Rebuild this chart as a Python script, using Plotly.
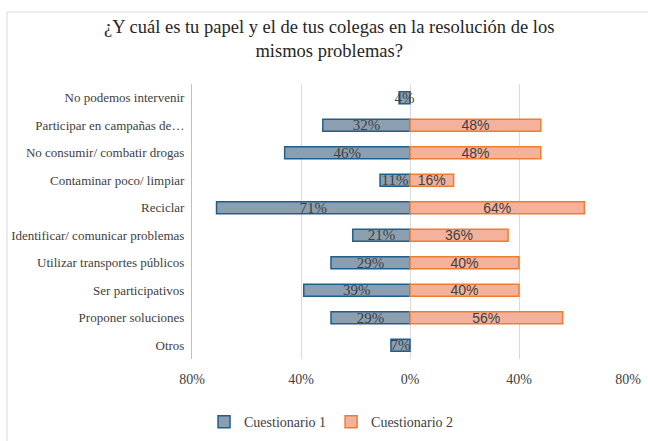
import plotly.graph_objects as go

categories = ["No podemos intervenir", "Participar en campañas de…", "No consumir/ combatir drogas",
              "Contaminar poco/ limpiar", "Reciclar", "Identificar/ comunicar problemas",
              "Utilizar transportes públicos", "Ser participativos", "Proponer soluciones", "Otros"]
cuestionario1 = [4, 32, 46, 11, 71, 21, 29, 39, 29, 7]
cuestionario2 = [None, 48, 48, 16, 64, 36, 40, 40, 56, None]
tick_vals = [-80, -40, 0, 40, 80]
tick_text = ["80%", "40%", "0%", "40%", "80%"]

serif = "Liberation Serif"
sans = "Liberation Sans"
txt = "#404040"

fig = go.Figure()
fig.add_trace(go.Bar(
    name="Cuestionario 1", orientation="h", y=categories,
    x=[-v for v in cuestionario1],
    text=[f"{v}%" for v in cuestionario1],
    textposition="inside", insidetextanchor="middle", textangle=0,
    insidetextfont=dict(family=serif, size=15, color=txt),
    marker=dict(color="#8c9fb1", line=dict(color="#1f5f8b", width=1.5)),
))
fig.add_trace(go.Bar(
    name="Cuestionario 2", orientation="h", y=categories,
    x=cuestionario2,
    text=[f"{v}%" if v is not None else "" for v in cuestionario2],
    textposition="inside", insidetextanchor="middle", textangle=0,
    insidetextfont=dict(family=sans, size=14, color=txt),
    marker=dict(color="#f4b19c", line=dict(color="#ed7d31", width=1.5)),
))

fig.update_layout(
    width=648, height=441,
    margin=dict(l=192, r=20, t=84, b=82, autoexpand=False),
    paper_bgcolor="white", plot_bgcolor="white",
    barmode="relative", bargap=0.56,
    uniformtext=dict(mode="show", minsize=14),
    title=dict(text="¿Y cuál es tu papel y el de tus colegas en la resolución de los<br>mismos problemas?",
               x=0.508, xanchor="center", y=0.925, yanchor="middle",
               font=dict(family=serif, size=18.5, color="#262626")),
    xaxis=dict(range=[-80, 80], tickvals=tick_vals, ticktext=tick_text,
               showgrid=True, gridcolor="#d9d9d9", gridwidth=1,
               zeroline=False, showline=False, ticks="", automargin=False,
               ticklabelstandoff=10,
               tickfont=dict(family=serif, size=14, color=txt), fixedrange=True),
    yaxis=dict(categoryorder="array", categoryarray=categories, autorange="reversed",
               showline=True, linecolor="#bfbfbf", linewidth=1, ticks="", automargin=False,
               ticklabelstandoff=4,
               tickfont=dict(family=serif, size=13, color=txt)),
    legend=dict(orientation="h", x=0.32, xanchor="center", y=-0.23, yanchor="middle",
                itemwidth=30, font=dict(family=serif, size=14, color=txt), traceorder="normal"),
    showlegend=True,
    shapes=[dict(type="rect", xref="paper", yref="paper",
                 x0=(7 - 192) / 436, x1=(650 - 192) / 436,
                 y0=(359 - 445) / 275, y1=(359 - 12) / 275,
                 line=dict(color="#d9d9d9", width=1), fillcolor="rgba(0,0,0,0)", layer="below")],
)

fig.write_html("out.html", config={"displayModeBar": False},
               post_script="document.body.style.margin='0';document.body.style.overflow='hidden';")
